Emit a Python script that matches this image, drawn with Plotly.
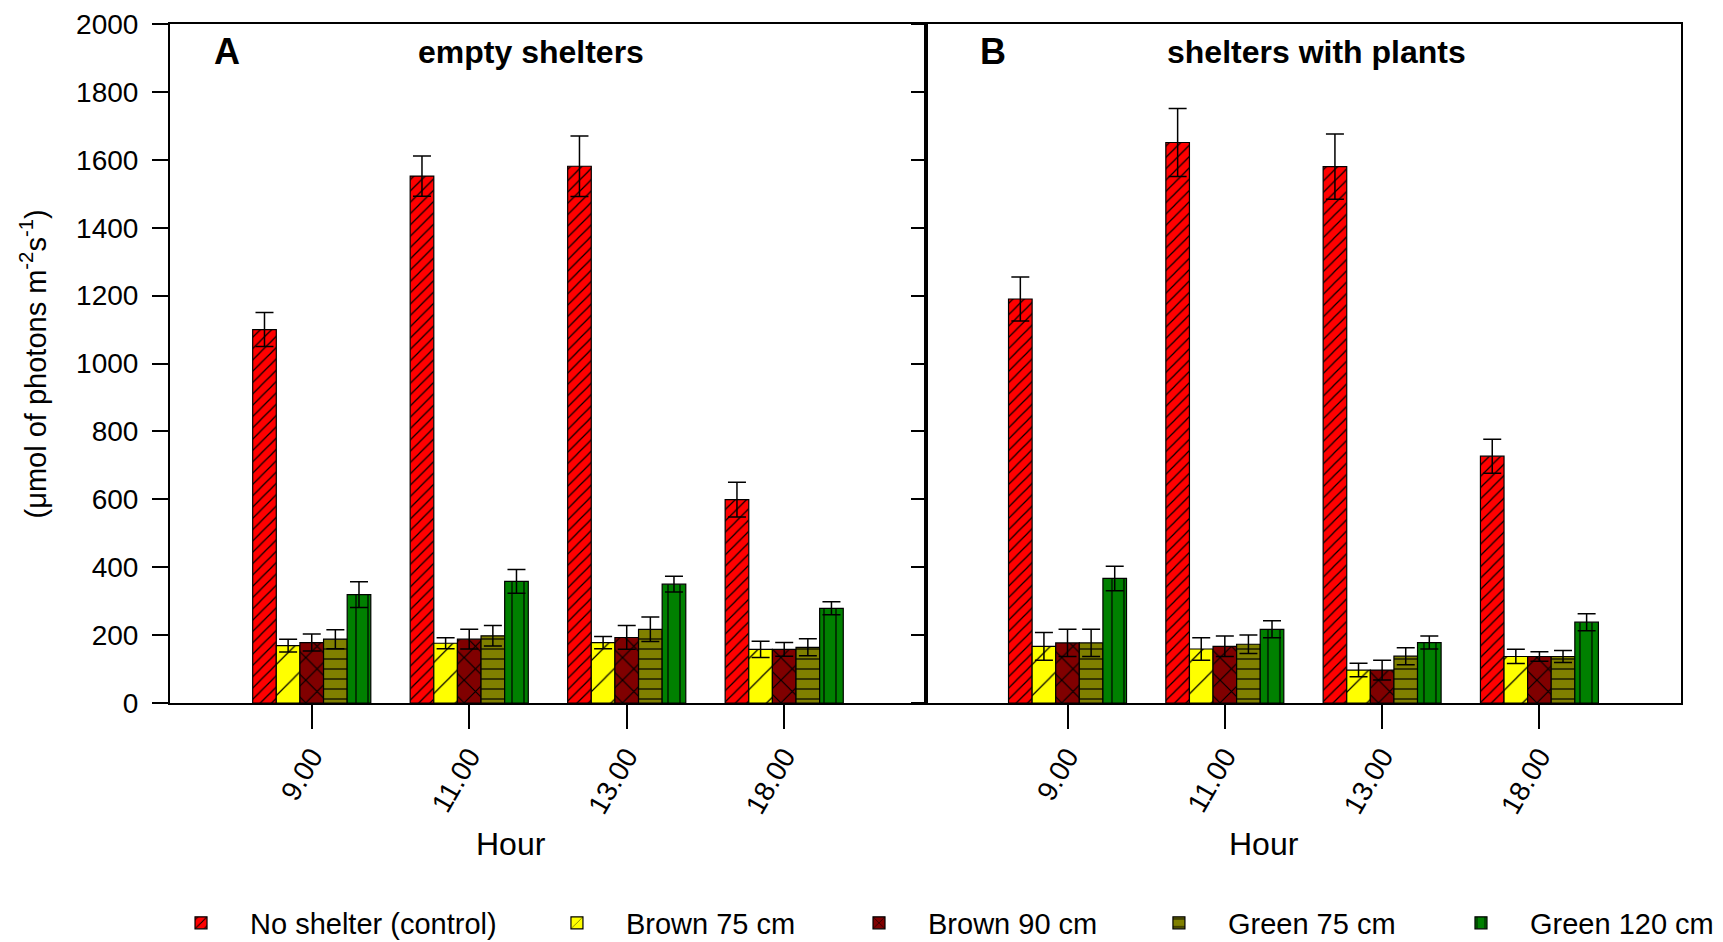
import plotly.graph_objects as go

hours = ["9.00", "11.00", "13.00", "18.00"]
series_names = ["No shelter (control)", "Brown 75 cm", "Brown 90 cm", "Green 75 cm", "Green 120 cm"]

# Panel A: empty shelters
a_control = [1100, 1552, 1581, 599]
a_brown75 = [169, 176, 178, 158]
a_brown90 = [178, 188, 193, 158]
a_green75 = [188, 198, 217, 164]
a_green120 = [319, 358, 350, 279]
a_control_err = [50, 59, 89, 51]
a_brown75_err = [19, 16, 18, 24]
a_brown90_err = [25, 29, 35, 20]
a_green75_err = [28, 30, 36, 25]
a_green120_err = [38, 35, 23, 19]

# Panel B: shelters with plants
b_control = [1190, 1651, 1580, 727]
b_brown75 = [167, 159, 97, 137]
b_brown90 = [177, 167, 97, 137]
b_green75 = [177, 173, 138, 137]
b_green120 = [367, 217, 178, 238]
b_control_err = [65, 100, 96, 50]
b_brown75_err = [41, 33, 20, 21]
b_brown90_err = [40, 30, 29, 14]
b_green75_err = [40, 27, 25, 18]
b_green120_err = [36, 25, 19, 25]

colors = ["#FF0000", "#FFFF00", "#800000", "#808000", "#008000"]
patterns = [
    dict(shape="/", size=8, solidity=0.15),
    dict(shape="/", size=22, solidity=0.055),
    dict(shape="x", size=16, solidity=0.14),
    dict(shape="-", size=10, solidity=0.12),
    dict(shape="|", size=12, solidity=0.1),
]

panel_a = [a_control, a_brown75, a_brown90, a_green75, a_green120]
panel_a_err = [a_control_err, a_brown75_err, a_brown90_err, a_green75_err, a_green120_err]
panel_b = [b_control, b_brown75, b_brown90, b_green75, b_green120]
panel_b_err = [b_control_err, b_brown75_err, b_brown90_err, b_green75_err, b_green120_err]

FONT = "Liberation Sans, Arial, sans-serif"
legend_ids = ["legend", "legend2", "legend3", "legend4", "legend5"]
legend_x = [-0.0119, 0.2369, 0.4368, 0.6353, 0.8352]

fig = go.Figure()
for panel_idx, (vals, errs) in enumerate([(panel_a, panel_a_err), (panel_b, panel_b_err)]):
    xa = "x" if panel_idx == 0 else "x2"
    ya = "y" if panel_idx == 0 else "y2"
    for i, name in enumerate(series_names):
        pat = dict(patterns[i])
        pat.update(fillmode="replace", bgcolor=colors[i], fgcolor="black")
        fig.add_trace(go.Bar(
            x=hours, y=vals[i], name=name,
            xaxis=xa, yaxis=ya,
            legend=legend_ids[i],
            legendgroup=name, showlegend=(panel_idx == 0),
            offsetgroup=str(i),
            marker=dict(color=colors[i], pattern=pat,
                        line=dict(color="black", width=1.2)),
            error_y=dict(type="data", array=errs[i], visible=True,
                         color="black", thickness=1.5, width=9),
        ))

axis_common = dict(
    showline=True, linecolor="black", linewidth=2,
    showgrid=False, zeroline=False, automargin=False,
)

legend_common = dict(orientation="h", xanchor="left", y=-0.324, yanchor="middle",
                     font=dict(size=29, family=FONT), itemwidth=88,
                     bgcolor="rgba(0,0,0,0)")

fig.update_layout(
    width=1723, height=942,
    margin=dict(l=170, r=42, t=24, b=239, autoexpand=False),
    paper_bgcolor="white", plot_bgcolor="white",
    barmode="group", bargap=0.25, bargroupgap=0,
    font=dict(family=FONT, size=28, color="black"),
    showlegend=True,
    xaxis=dict(domain=[0, 0.5003], type="category", range=[-0.9, 3.9],
               ticks="outside", ticklen=24, tickwidth=1.5, tickcolor="black",
               tickangle=-60, mirror=True, anchor="y",
               tickfont=dict(size=28), **axis_common),
    xaxis2=dict(domain=[0.5003, 1], type="category", range=[-0.9, 3.9],
                ticks="outside", ticklen=24, tickwidth=1.5, tickcolor="black",
                tickangle=-60, mirror=True, anchor="y2",
                tickfont=dict(size=28), **axis_common),
    yaxis=dict(domain=[0, 1], range=[0, 2000], tickvals=list(range(0, 2001, 200)),
               ticks="outside", ticklen=16, tickwidth=1.5, tickcolor="black",
               ticklabelstandoff=8,
               mirror=True, anchor="x", tickfont=dict(size=28), **axis_common),
    yaxis2=dict(domain=[0, 1], range=[0, 2000], tickvals=list(range(0, 2001, 200)),
                ticks="outside", ticklen=13, tickwidth=1.5, tickcolor="black",
                showticklabels=False, mirror=True, anchor="x2", **axis_common),
)
for lid, lx in zip(legend_ids, legend_x):
    fig.update_layout({lid: dict(x=lx, **legend_common)})

annotations = [
    dict(text="<b>A</b>", x=0.0278, y=0.959, xanchor="left", font=dict(size=36)),
    dict(text="<b>empty shelters</b>", x=0.239, y=0.959, xanchor="center", font=dict(size=32)),
    dict(text="<b>B</b>", x=0.5347, y=0.959, xanchor="left", font=dict(size=36)),
    dict(text="<b>shelters with plants</b>", x=0.759, y=0.959, xanchor="center", font=dict(size=32)),
    dict(text="Hour", x=0.2257, y=-0.2077, xanchor="center", font=dict(size=32)),
    dict(text="Hour", x=0.724, y=-0.2077, xanchor="center", font=dict(size=32)),
    dict(text="(\u03bcmol of photons m<sup>-2</sup>s<sup>-1</sup>)", x=-0.0907, y=0.5,
         xanchor="center", textangle=-90, font=dict(size=29)),
]
for a in annotations:
    a.update(xref="paper", yref="paper", showarrow=False, yanchor="middle")
    fig.add_annotation(**a)

fig.write_html("out.html", config={"displayModeBar": False},
               post_script="document.body.style.margin='0';document.body.style.overflow='hidden';")
